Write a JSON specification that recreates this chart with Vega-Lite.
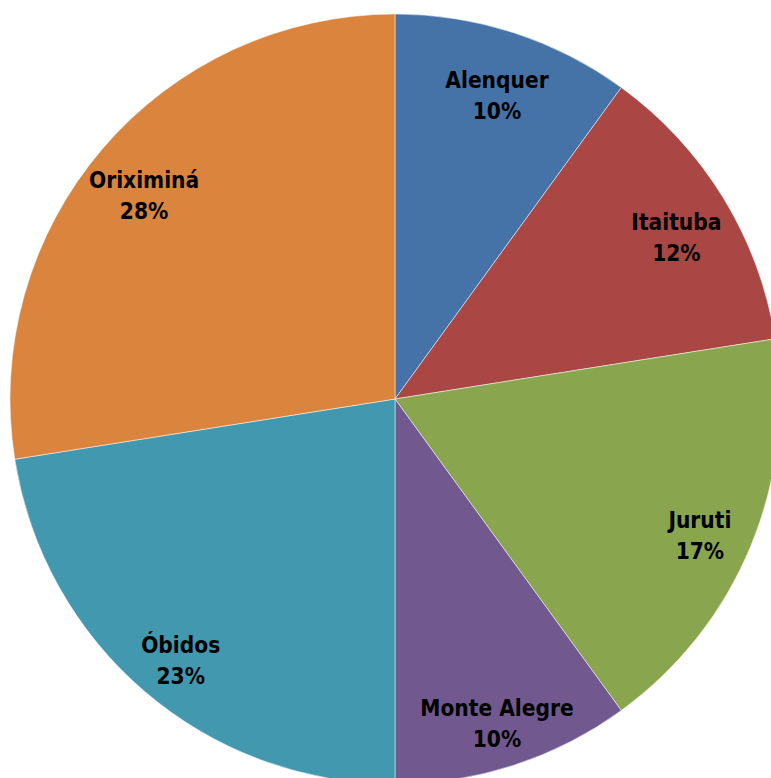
{
  "$schema": "https://vega.github.io/schema/vega-lite/v6.json",
  "width": 790,
  "height": 798,
  "autosize": "none",
  "padding": 0,
  "background": "white",
  "view": {"stroke": null},
  "data": {
    "values": [
      {"idx": 1, "name": "Alenquer", "value": 10.0, "label": "Alenquer\n10%"},
      {"idx": 2, "name": "Itaituba", "value": 12.5, "label": "Itaituba\n12%"},
      {"idx": 3, "name": "Juruti", "value": 17.5, "label": "Juruti\n17%"},
      {"idx": 4, "name": "Monte Alegre", "value": 10.0, "label": "Monte Alegre\n10%"},
      {"idx": 5, "name": "Óbidos", "value": 22.5, "label": "Óbidos\n23%"},
      {"idx": 6, "name": "Oriximiná", "value": 27.5, "label": "Oriximiná\n28%"}
    ]
  },
  "encoding": {
    "theta": {"field": "value", "type": "quantitative", "stack": true},
    "order": {"field": "idx", "type": "quantitative"}
  },
  "layer": [
    {
      "mark": {"type": "arc", "radius": 385, "stroke": "#ffffff", "strokeWidth": 0.5},
      "encoding": {
        "color": {
          "field": "name",
          "type": "nominal",
          "scale": {
            "domain": ["Alenquer", "Itaituba", "Juruti", "Monte Alegre", "Óbidos", "Oriximiná"],
            "range": ["#4572A7", "#AA4643", "#89A54E", "#71588F", "#4198AF", "#DB843D"]
          },
          "legend": null
        }
      }
    },
    {
      "mark": {
        "type": "text",
        "radius": 330,
        "dy": -4,
        "font": "DejaVu Sans Condensed",
        "fontSize": 22.5,
        "fontWeight": "bold",
        "lineBreak": "\n",
        "lineHeight": 31,
        "color": "#000000",
        "align": "center",
        "baseline": "middle"
      },
      "encoding": {
        "text": {"field": "label", "type": "nominal"}
      }
    }
  ]
}
